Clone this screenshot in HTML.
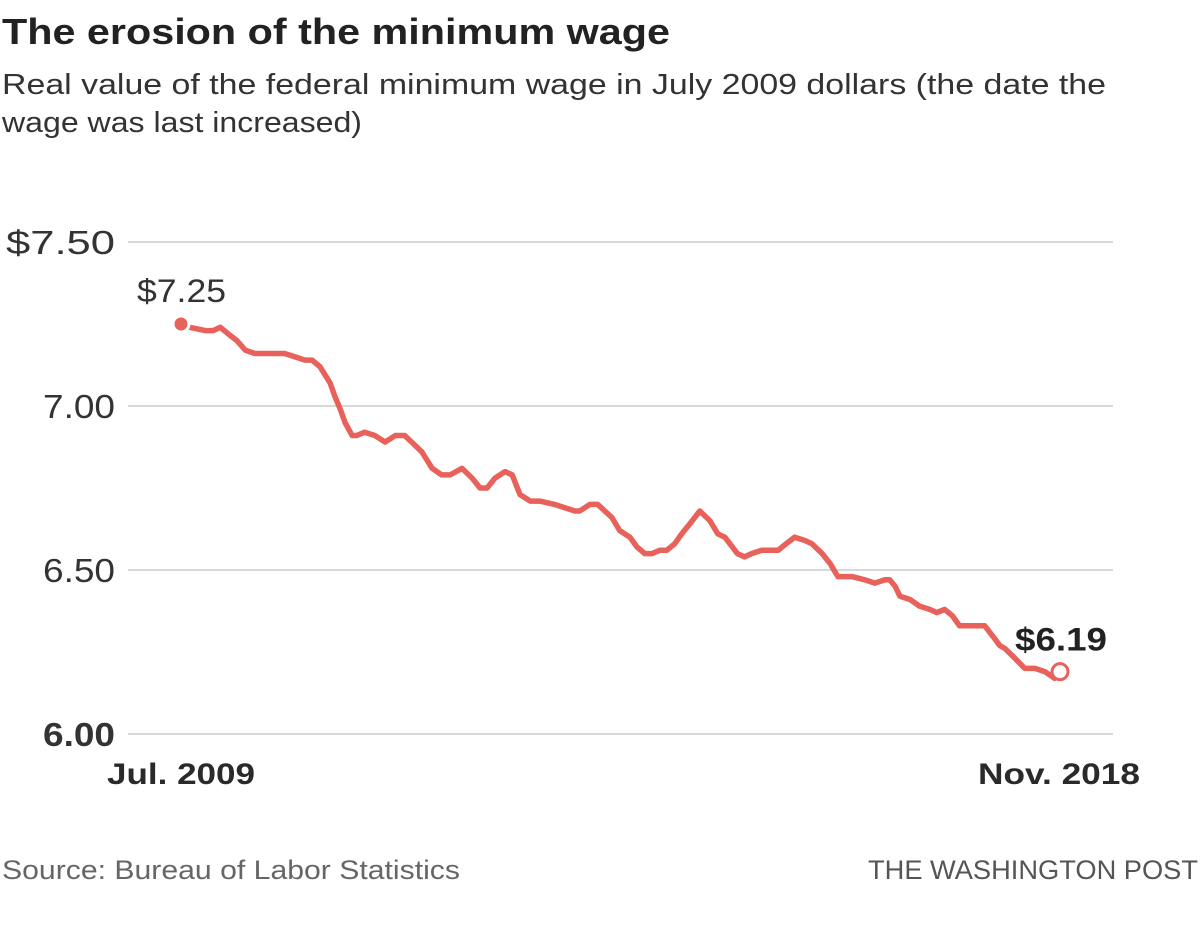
<!DOCTYPE html>
<html><head><meta charset="utf-8"><style>
html,body{margin:0;padding:0;background:#fff;}
svg{display:block;font-family:"Liberation Sans",Arial,sans-serif;}
</style></head><body>
<svg id="chart" width="1200" height="941" viewBox="0 0 1200 941">
<text x="2" y="44" font-size="36" font-weight="bold" fill="#222" textLength="668" lengthAdjust="spacingAndGlyphs">The erosion of the minimum wage</text>
<text x="2" y="94" font-size="29" fill="#333" textLength="1104" lengthAdjust="spacingAndGlyphs">Real value of the federal minimum wage in July 2009 dollars (the date the</text>
<text x="2" y="132" font-size="29" fill="#333" textLength="360" lengthAdjust="spacingAndGlyphs">wage was last increased)</text>
<g id="grid"></g>
<g id="marks"></g>
<text x="107" y="784" font-size="30" font-weight="bold" fill="#2a2a2a" textLength="148" lengthAdjust="spacingAndGlyphs">Jul. 2009</text>
<text x="1140" y="784" font-size="30" font-weight="bold" fill="#2a2a2a" text-anchor="end" textLength="162" lengthAdjust="spacingAndGlyphs">Nov. 2018</text>
<text x="2" y="879" font-size="27" fill="#666" textLength="458" lengthAdjust="spacingAndGlyphs">Source: Bureau of Labor Statistics</text>
<text x="1198" y="879" font-size="27" fill="#555" text-anchor="end" textLength="330" lengthAdjust="spacingAndGlyphs">THE WASHINGTON POST</text>
</svg>
<script>
const yTicks = [6.0, 6.5, 7.0, 7.5];
const yTickLabels = ["6.00", "6.50", "7.00", "$7.50"];
const months = [0,1.1,3.1,4.1,5.0,6.0,7.1,8.2,9.4,12.0,13.2,14.5,15.8,16.7,17.7,19.0,19.6,20.3,20.9,21.8,22.4,23.4,24.7,26.0,27.3,28.5,29.4,30.7,32.0,33.2,34.3,35.8,37.1,38.1,39.0,40.0,41.3,42.2,43.2,44.5,45.7,47.6,48.9,50.2,50.8,52.1,53.1,54.0,54.9,55.9,57.2,58.1,59.1,60.0,61.0,61.9,62.9,63.8,64.8,66.1,67.4,68.4,69.3,70.9,71.8,72.7,74.0,75.0,76.1,77.1,78.2,79.5,80.4,81.7,82.7,83.7,84.6,85.5,87.1,88.4,89.7,90.3,91.0,91.6,92.9,94.1,95.4,96.3,97.3,98.3,99.2,101.1,102.4,103.7,104.3,105.0,106.3,107.5,108.2,108.8,110.1,111.3,112];
const wages = [7.25,7.24,7.23,7.23,7.24,7.22,7.20,7.17,7.16,7.16,7.16,7.15,7.14,7.14,7.12,7.07,7.03,6.99,6.95,6.91,6.91,6.92,6.91,6.89,6.91,6.91,6.89,6.86,6.81,6.79,6.79,6.81,6.78,6.75,6.75,6.78,6.80,6.79,6.73,6.71,6.71,6.70,6.69,6.68,6.68,6.70,6.70,6.68,6.66,6.62,6.60,6.57,6.55,6.55,6.56,6.56,6.58,6.61,6.64,6.68,6.65,6.61,6.60,6.55,6.54,6.55,6.56,6.56,6.56,6.58,6.60,6.59,6.58,6.55,6.52,6.48,6.48,6.48,6.47,6.46,6.47,6.47,6.45,6.42,6.41,6.39,6.38,6.37,6.38,6.36,6.33,6.33,6.33,6.29,6.27,6.26,6.23,6.20,6.20,6.20,6.19,6.17,6.19];
const startLabel = "$7.25";
const endLabel = "$6.19";

const NS = "http://www.w3.org/2000/svg";
const xScale = m => 181 + m * (1060 - 181) / 112;
const yScale = v => 734 - (v - 6.0) * 328;
function mk(tag, attrs, parent) {
  const e = document.createElementNS(NS, tag);
  for (const k in attrs) e.setAttribute(k, attrs[k]);
  parent.appendChild(e);
  return e;
}
const grid = document.getElementById('grid');
yTicks.forEach((t, i) => {
  const y = yScale(t);
  const ln = mk('line', {x1: 128, x2: 1113, y1: y, y2: y, stroke: '#ccc', 'stroke-width': 1.5}, grid);
  
  
  const lbl = yTickLabels[i];
  const tx = mk('text', {x: 115, y: y + 12, 'font-size': 33, fill: '#333', 'text-anchor': 'end', textLength: lbl.length > 4 ? 109 : 72, lengthAdjust: 'spacingAndGlyphs', 'font-weight': i === 0 ? 'bold' : 'normal'}, grid);
  tx.textContent = lbl;
  
  
});
const marks = document.getElementById('marks');
const d = months.map((m, i) => (i ? 'L' : 'M') + xScale(m).toFixed(1) + ',' + yScale(wages[i]).toFixed(1)).join('');
const path = mk('path', {d: d, fill: 'none', stroke: '#e8615a', 'stroke-width': 5.5, 'stroke-linejoin': 'round', 'stroke-linecap': 'round'}, marks);


const n = months.length - 1;
const c1 = mk('circle', {cx: xScale(months[0]), cy: yScale(wages[0]), r: 8, fill: '#e8615a', stroke: '#fff', 'stroke-width': 3}, marks);


const c2 = mk('circle', {cx: xScale(months[n]), cy: yScale(wages[n]), r: 8, fill: '#fff', stroke: '#e8615a', 'stroke-width': 3}, marks);


const l1 = mk('text', {x: xScale(months[0]) - 44, y: yScale(wages[0]) - 22, 'font-size': 32, fill: '#333', textLength: 89, lengthAdjust: 'spacingAndGlyphs'}, marks);
l1.textContent = startLabel;


const l2 = mk('text', {x: xScale(months[n]) + 47, y: yScale(wages[n]) - 21, 'font-size': 32, 'font-weight': 'bold', fill: '#222', 'text-anchor': 'end', textLength: 92, lengthAdjust: 'spacingAndGlyphs'}, marks);
l2.textContent = endLabel;


</script>
</body></html>
